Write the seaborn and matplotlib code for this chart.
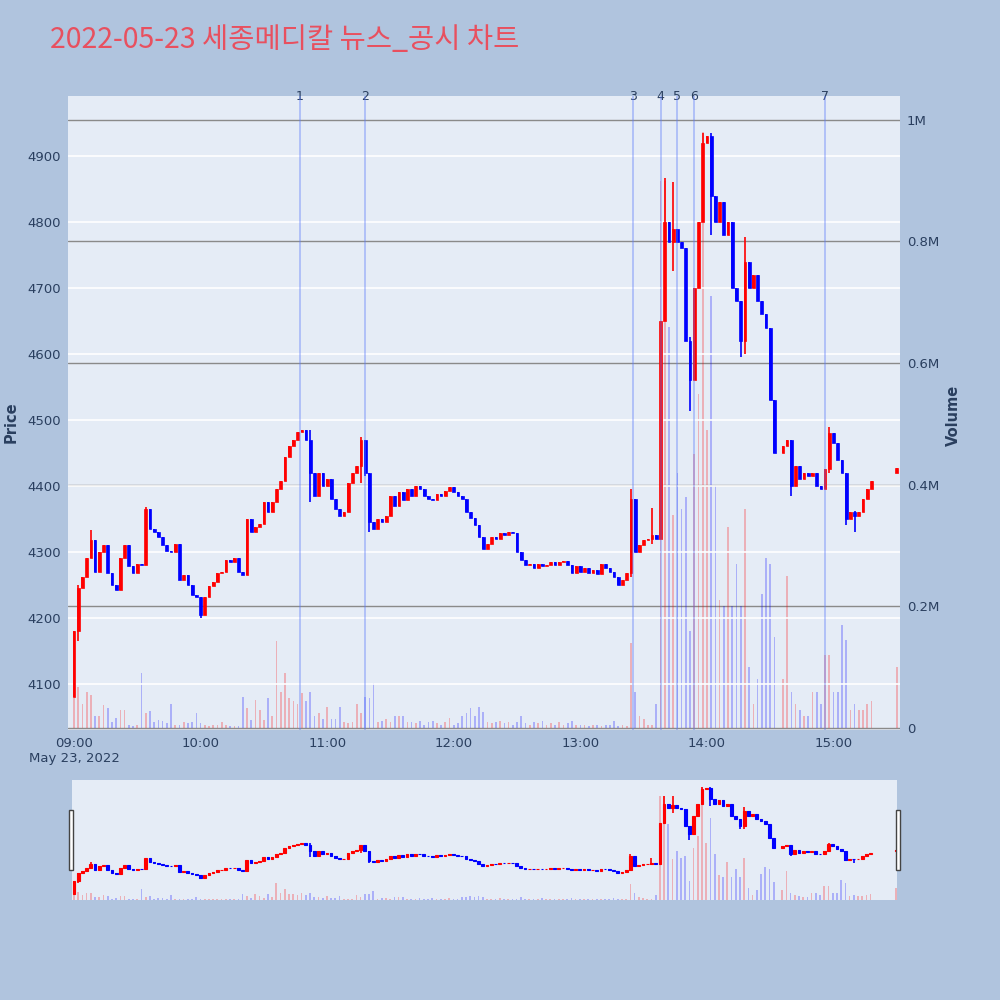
import numpy as np
import pandas as pd
import seaborn as sns
import matplotlib
matplotlib.use("Agg")
import matplotlib.pyplot as plt
import matplotlib.dates as mdates
from matplotlib.patches import Rectangle

# 2-minute candles from 09:00 (close price), None = trading halt
closes = [
    4180, 4245, 4262, 4290, 4318, 4270, 4300, 4310, 4268, 4250,
    4242, 4290, 4310, 4278, 4268, 4282, 4280, 4365, 4335, 4330,
    4322, 4310, 4302, 4300, 4312, 4258, 4265, 4250, 4235, 4232,
    4205, 4232, 4248, 4255, 4268, 4270, 4288, 4285, 4290, 4270,
    4265, 4350, 4330, 4338, 4342, 4375, 4360, 4375, 4395, 4408,
    4444, 4460, 4470, 4482, 4484, 4470, 4420, 4385, 4420, 4400,
    4410, 4380, 4365, 4355, 4360, 4405, 4420, 4430, 4470, 4420,
    4345, 4335, 4350, 4345, 4355, 4385, 4370, 4390, 4378, 4395,
    4385, 4400, 4395, 4385, 4380, 4378, 4388, 4385, 4392, 4398,
    4390, 4385, 4380, 4360, 4352, 4340, 4322, 4305, 4312, 4322,
    4320, 4328, 4325, 4330, 4328, 4300, 4288, 4280, 4282, 4275,
    4282, 4278, 4280, 4284, 4280, 4284, 4286, 4280, 4268, 4278,
    4270, 4275, 4268, 4272, 4266, 4282, 4275, 4270, 4262, 4250,
    4258, 4268, 4380, 4300, 4310, 4318, 4320, 4325, 4320, 4650,
    4800, 4770, 4790, 4770, 4760, 4620, 4560, 4700, 4800, 4920,
    4930, 4840, 4800, 4830, 4780, 4800, 4700, 4680, 4620, 4740,
    4700, 4720, 4680, 4660, 4640, 4530, 4450, None, 4460, 4470,
    4400, 4430, 4410, 4420, 4415, 4420, 4400, 4395, 4425, 4480,
    4465, 4440, 4420, 4350, 4360, 4355, 4360, 4380, 4395, 4408,
]
# volume per candle, thousands of shares
volumes_k = [
    50, 68, 40, 60, 55, 20, 20, 38, 33, 10,
    16, 30, 30, 6, 4, 5, 90, 25, 28, 10,
    14, 12, 8, 40, 5, 6, 10, 8, 10, 25,
    8, 5, 4, 5, 6, 10, 5, 4, 3, 3,
    52, 33, 14, 46, 30, 14, 50, 20, 143, 60,
    90, 50, 45, 40, 57, 44, 60, 20, 25, 15,
    35, 15, 15, 35, 10, 8, 10, 40, 25, 52,
    50, 75, 10, 12, 15, 10, 20, 20, 20, 10,
    10, 8, 12, 6, 10, 12, 8, 6, 10, 17,
    6, 8, 20, 25, 33, 20, 35, 26, 10, 8,
    10, 12, 8, 10, 6, 10, 20, 8, 6, 10,
    8, 12, 6, 8, 5, 10, 6, 8, 12, 5,
    5, 6, 4, 6, 5, 4, 6, 5, 12, 4,
    5, 3, 140, 60, 20, 15, 5, 5, 40, 900,
    900, 660, 350, 420, 360, 380, 160, 450, 550, 980,
    490, 710, 400, 210, 200, 330, 200, 270, 200, 360,
    100, 40, 80, 220, 280, 270, 150, 0, 80, 250,
    60, 40, 30, 20, 20, 60, 60, 40, 120, 120,
    60, 60, 170, 145, 30, 40, 30, 30, 40, 45,
]
first_open = 4080
auction_time = "15:30"
auction_open = 4420
auction_close = 4427
auction_volume_k = 100

# intrabar extremes (candle start time, high, low)
wick_times = ["09:02", "09:08", "09:34", "10:00", "10:52", "11:16", "11:18",
              "11:20", "13:24", "13:34", "13:40", "13:44", "13:52", "13:58",
              "14:02", "14:16", "14:18", "14:40", "14:58", "15:06", "15:10"]
wick_high = [4250, 4333, 4368, 4232, 4484, 4474, 4460, 4420, 4396, 4366,
             4866, 4860, 4625, 4935, 4935, 4680, 4778, 4470, 4490, 4365, 4362]
wick_low = [4165, 4300, 4280, 4200, 4375, 4405, 4415, 4330, 4262, 4312,
            4650, 4725, 4513, 4800, 4780, 4596, 4600, 4384, 4420, 4340, 4330]

event_times = ["10:47", "11:18", "13:25", "13:38", "13:46", "13:54", "14:56"]
event_labels = ["1", "2", "3", "4", "5", "6", "7"]

price_ticks = [4100, 4200, 4300, 4400, 4500, 4600, 4700, 4800, 4900]
volume_ticks = [0, 200000, 400000, 600000, 800000, 1000000]
volume_labels = ["0", "0.2M", "0.4M", "0.6M", "0.8M", "1M"]
time_ticks = ["09:00", "10:00", "11:00", "12:00", "13:00", "14:00", "15:00"]
day = "2022-05-23"
title = "2022-05-23 세종메디칼 뉴스_공시 차트"

# ---- build frame
df = pd.DataFrame({
    "time": pd.date_range(f"{day} 09:00", periods=len(closes), freq="2min"),
    "close": pd.Series(closes, dtype="float"),
    "volume": np.array(volumes_k, dtype=float) * 1000,
})
df["open"] = df["close"].ffill().shift(1)
df.loc[0, "open"] = first_open
auction = pd.DataFrame({"time": [pd.Timestamp(f"{day} {auction_time}")],
                        "close": [auction_close], "open": [auction_open],
                        "volume": [auction_volume_k * 1000]})
df = pd.concat([df, auction], ignore_index=True).dropna(subset=["close"])
df["up"] = df["close"] >= df["open"]
df["x"] = mdates.date2num(df["time"])
df["high"] = df[["open", "close"]].max(axis=1)
df["low"] = df[["open", "close"]].min(axis=1)
wt = pd.to_datetime([f"{day} {t}" for t in wick_times])
for t, h, l in zip(wt, wick_high, wick_low):
    m = df["time"] == t
    df.loc[m, "high"] = np.maximum(df.loc[m, "high"], h)
    df.loc[m, "low"] = np.minimum(df.loc[m, "low"], l)

minute = 1 / 1440
t0 = mdates.date2num(pd.Timestamp(f"{day} 09:00"))
xlim_main = (t0 - 2.85 * minute, t0 + 391.5 * minute)
xlim_slider = (t0 - 0.95 * minute, t0 + 390.5 * minute)
price_lim = (4030, 4991)
vol_lim = (-3000, 1039000)

sns.set_theme(style="darkgrid")
plt.rcParams["font.family"] = ["DejaVu Sans", "Noto Sans CJK KR"]
bg = "#b0c4de"
plot_bg = "#e5ecf6"
txt = "#2a3f5f"

fig = plt.figure(figsize=(10, 10), dpi=100, facecolor=bg)


def draw(ax_p, ax_v, lw, vol_w):
    colors = np.where(df["up"], "#ff0000", "#0000ff")
    bottom = np.minimum(df["open"], df["close"])
    height = np.abs(df["close"] - df["open"])
    ax_v.bar(df["x"], df["volume"], vol_w * minute, color=colors, alpha=0.25,
             linewidth=0, zorder=2)
    ax_p.vlines(df["x"], df["low"], df["high"], colors=colors, linewidth=1.2,
                zorder=3)
    ax_p.bar(df["x"], height, 1.3 * minute, bottom=bottom, color=colors,
             edgecolor=colors, linewidth=lw, zorder=3)


# ---- main chart
ax_v = fig.add_axes([0.068, 0.27, 0.832, 0.634])
ax_p = ax_v.twinx()
ax_v.set_facecolor(plot_bg)
ax_p.patch.set_visible(False)
draw(ax_p, ax_v, 0.5, 0.8)

ax_v.set_xlim(*xlim_main)
ax_v.set_ylim(*vol_lim)
ax_p.set_ylim(*price_lim)
ax_v.yaxis.tick_right()
ax_p.yaxis.tick_left()
ax_v.set_yticks(volume_ticks)
ax_v.set_yticklabels(volume_labels)
ax_p.set_yticks(price_ticks)
ax_p.set_yticklabels([str(p) for p in price_ticks])
ax_v.grid(axis="y", color="#8a8a8a", linewidth=1)
ax_v.grid(axis="x", visible=False)
ax_p.grid(axis="y", color="white", linewidth=1.2)
ax_p.grid(axis="x", visible=False)

tick_pos = [mdates.date2num(pd.Timestamp(f"{day} {t}")) for t in time_ticks]
ax_v.set_xticks(tick_pos)
ax_v.set_xticklabels([time_ticks[0] + "\nMay 23, 2022"] + time_ticks[1:],
                     multialignment="center")
for a in (ax_v, ax_p):
    a.tick_params(length=0, labelsize=9.5, labelcolor=txt, pad=5)
    for s in a.spines.values():
        s.set_visible(False)

for t, lab in zip(event_times, event_labels):
    xe = mdates.date2num(pd.Timestamp(f"{day} {t}"))
    ax_p.axvline(xe, color="#5c7cfa", alpha=0.45, linewidth=1.2, zorder=4)
    ax_p.text(xe, price_lim[1], lab, ha="center", va="center", fontsize=9,
              color=txt, clip_on=False)

fig.text(0.05, 0.96, title, fontsize=20.5, color="#e8505f",
         family=["Noto Sans CJK KR", "DejaVu Sans"], va="center")
fig.text(0.011, 0.578, "Price", rotation=90, fontsize=10.5, fontweight="bold",
         color=txt, ha="center", va="center")
fig.text(0.953, 0.585, "Volume", rotation=90, fontsize=10.5, fontweight="bold",
         color=txt, ha="center", va="center")

# ---- range slider
sl_v = fig.add_axes([0.072, 0.10, 0.825, 0.12])
sl_p = sl_v.twinx()
sl_v.set_facecolor(plot_bg)
sl_p.patch.set_visible(False)
draw(sl_p, sl_v, 0.8, 0.8)
sl_v.set_xlim(*xlim_slider)
sl_v.set_ylim(*vol_lim)
sl_p.set_ylim(*price_lim)
for a in (sl_v, sl_p):
    a.set_xticks([])
    a.set_yticks([])
    a.grid(False)
    for s in a.spines.values():
        s.set_visible(False)

for hx in (0.0685, 0.8955):
    fig.patches.append(Rectangle((hx, 0.13), 0.0045, 0.06, transform=fig.transFigure,
                                 facecolor="white", edgecolor="#444444",
                                 linewidth=1, zorder=5))

fig.savefig("out.png", dpi=100, facecolor=bg)
